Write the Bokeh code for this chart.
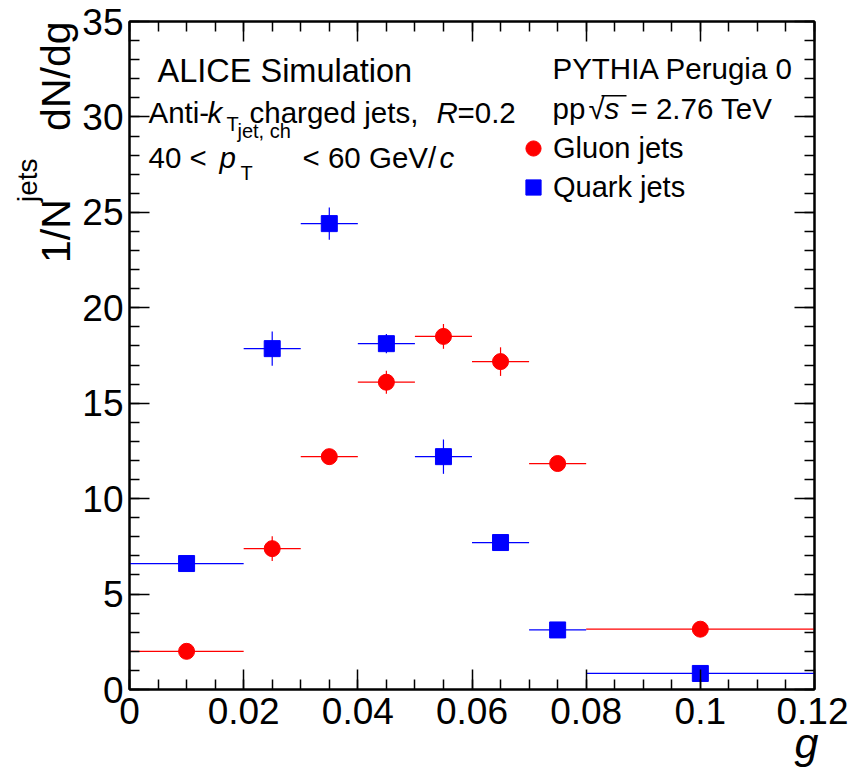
import math
from bokeh.plotting import figure
from bokeh.models import (Label, Legend, LegendItem, LinearAxis, SingleIntervalTicker, Title,
                          NumeralTickFormatter, ColumnDataSource, Range1d, BoxAnnotation,
                          CustomLabelingPolicy)
from bokeh.embed import file_html
from bokeh.resources import INLINE

# ---------------- data ----------------
bin_lo = [0.0, 0.02, 0.03, 0.04, 0.05, 0.06, 0.07, 0.08]
bin_hi = [0.02, 0.03, 0.04, 0.05, 0.06, 0.07, 0.08, 0.12]
bin_center = [0.01, 0.025, 0.035, 0.045, 0.055, 0.065, 0.075, 0.10]
gluon_y = [2.0, 7.38, 12.2, 16.1, 18.5, 17.18, 11.84, 3.16]
gluon_err = [0.15, 0.65, 0.3, 0.6, 0.65, 0.75, 0.3, 0.1]
quark_y = [6.6, 17.86, 24.41, 18.12, 12.2, 7.7, 3.12, 0.84]
quark_err = [0.2, 0.9, 0.85, 0.5, 0.9, 0.4, 0.25, 0.15]

FONT = "Liberation Sans"
RED = "#ff0000"
BLUE = "#0000ff"

# frame geometry (page pixels)
FL, FR, FT, FB = 129, 814, 21, 689
XMAX, YMAX = 0.12, 35.0
W, H = 848, 767


def dx(px):
    return (px - FL) / (FR - FL) * XMAX


def dy(py):
    return (FB - py) / (FB - FT) * YMAX


p = figure(width=W, height=H, x_range=Range1d(0, XMAX), y_range=Range1d(0, YMAX),
           output_backend="svg", toolbar_location=None,
           min_border_left=FL, min_border_right=W - FR,
           min_border_top=FT, min_border_bottom=H - FB)
p.xgrid.visible = False
p.ygrid.visible = False
p.outline_line_color = "black"
p.outline_line_width = 2
p.background_fill_color = "white"
p.border_fill_color = "white"

xticker = SingleIntervalTicker(interval=0.02, num_minor_ticks=4)
yticker = SingleIntervalTicker(interval=5, num_minor_ticks=5)


def style_axis(ax, labels):
    ax.axis_line_color = "black"
    ax.axis_line_width = 2
    ax.major_tick_in = 20
    ax.major_tick_out = 0
    ax.minor_tick_in = 10
    ax.minor_tick_out = 0
    ax.major_tick_line_color = "black"
    ax.minor_tick_line_color = "black"
    ax.major_tick_line_width = 1.5
    ax.minor_tick_line_width = 1.5
    if labels:
        ax.major_label_text_font = FONT
        ax.major_label_text_font_size = "37px"
        ax.major_label_text_color = "black"
    else:
        ax.major_label_policy = CustomLabelingPolicy(
            code="for (const i of indices) indices.unset(i)")
        ax.major_label_standoff = 0


xa = p.xaxis[0]
xa.ticker = xticker
xa.formatter = NumeralTickFormatter(format="0.[00]")
style_axis(xa, True)
xa.major_label_standoff = 8

ya = p.yaxis[0]
ya.ticker = yticker
style_axis(ya, True)
ya.major_label_standoff = 6

top = LinearAxis(ticker=xticker)
style_axis(top, False)
p.add_layout(top, "above")
right = LinearAxis(ticker=yticker)
style_axis(right, False)
p.add_layout(right, "right")

# axis titles (side-panel titles so they are not clipped by the frame)
NB = "\u00a0"
p.add_layout(Title(text="1/N" + NB * 6 + "dN/dg", align="right", offset=0, standoff=2,
                   text_font=FONT, text_font_size="41px", text_font_style="normal",
                   text_color="black"), "left")
p.add_layout(Title(text="jets", align="right", offset=137, standoff=-26,
                   text_font=FONT, text_font_size="28px", text_font_style="normal",
                   text_color="black"), "left")
p.add_layout(Title(text="g", align="right", offset=-4, standoff=-20,
                   text_font=FONT, text_font_size="43px", text_font_style="italic",
                   text_color="black"), "below")

# ---------------- data marks ----------------
gsrc = ColumnDataSource(dict(
    x=bin_center, y=gluon_y, lo=bin_lo, hi=bin_hi,
    ylo=[v - e for v, e in zip(gluon_y, gluon_err)],
    yhi=[v + e for v, e in zip(gluon_y, gluon_err)]))
qsrc = ColumnDataSource(dict(
    x=bin_center, y=quark_y, lo=bin_lo, hi=bin_hi,
    ylo=[v - e for v, e in zip(quark_y, quark_err)],
    yhi=[v + e for v, e in zip(quark_y, quark_err)]))

for src, col in ((gsrc, RED), (qsrc, BLUE)):
    p.segment(x0="lo", y0="y", x1="hi", y1="y", source=src, line_color=col, line_width=1.2)
    p.segment(x0="x", y0="ylo", x1="x", y1="yhi", source=src, line_color=col, line_width=1.2)

g_r = p.scatter(x="x", y="y", source=gsrc, marker="circle", size=16,
                fill_color=RED, line_color=RED)
q_r = p.scatter(x="x", y="y", source=qsrc, marker="square", size=16,
                fill_color=BLUE, line_color=BLUE)

legend = Legend(items=[LegendItem(label="Gluon jets", renderers=[g_r]),
                       LegendItem(label="Quark jets", renderers=[q_r])],
                location=(514 - FL, FB - 206),
                glyph_width=38, glyph_height=38, spacing=1, label_standoff=1,
                padding=0, margin=0, border_line_alpha=0, background_fill_alpha=0,
                label_text_font=FONT, label_text_font_size="29px", label_text_color="black")
p.add_layout(legend, "center")


# ---------------- texts ----------------
def txt(s, px, base, size=29.5, style="normal"):
    """px: left edge, base: text baseline (page pixels)."""
    p.add_layout(Label(x=dx(px), y=dy(base - 0.35 * size), text=s, text_font=FONT,
                       text_font_size=f"{size}px", text_font_style=style,
                       text_color="black", text_baseline="middle", text_align="left"))


txt("ALICE Simulation", 157, 82, size=32.5)
txt("Anti-", 148, 122)
txt("k", 207, 122, style="italic")
txt("T", 226, 130, size=20)
txt("charged jets,", 249, 122)
txt("R", 436, 122, style="italic")
txt("=0.2", 457, 122)
txt("40 <", 148, 167)
txt("p", 219, 167, style="italic")
txt("jet, ch", 237, 137, size=20)
txt("T", 240, 179, size=20)
txt("< 60 GeV/", 302, 167)
txt("c", 439, 167, style="italic")
txt("PYTHIA Perugia 0", 552, 78)
txt("pp", 552, 118)
txt("\u221a", 588, 118)
txt("s", 604, 118, style="italic")
txt("= 2.76 TeV", 630, 118)
p.add_layout(BoxAnnotation(left=dx(601), right=dx(626), top=dy(94.5), bottom=dy(96),
                           fill_color="black", fill_alpha=1, line_alpha=0))

open("out.html", "w").write(file_html(p, INLINE))
